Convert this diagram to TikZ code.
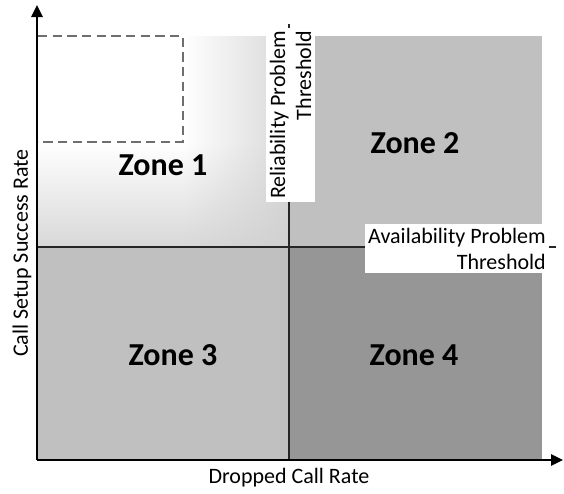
\documentclass[tikz,border=0pt]{standalone}
\usepackage{fontspec}
\setmainfont{Carlito}
\usetikzlibrary{arrows.meta,shadings}
\definecolor{zonegray}{HTML}{C0C0C0}
\definecolor{zonedark}{HTML}{969696}
\definecolor{dashgray}{HTML}{6E6E6E}
\definecolor{fadegray}{HTML}{D8D8D8}
\definecolor{fadedeep}{HTML}{D0D0D0}
\tikzset{
  axis/.style={line width=1.5pt, -{Triangle[length=9pt,width=8.5pt]}},
  divider/.style={line width=1.1pt, black!85},
  zonelabel/.style={font=\fontsize{24}{29}\selectfont\bfseries},
  thresholdlabel/.style={fill=white, inner sep=2.5pt, align=right, font=\fontsize{16.5}{19.5}\selectfont},
  axislabel/.style={font=\fontsize{16.5}{19.5}\selectfont}
}
\begin{document}
\begin{tikzpicture}[x=0.75pt, y=-0.75pt]
  \useasboundingbox (0,0) rectangle (564,493);
  % zone 1, fading out from the dashed corner
  \fill[white] (38,36) rectangle (183,142);
  \shade[left color=white, right color=fadegray] (183,36) rectangle (289,142);
  \shade[top color=white, bottom color=fadegray] (38,142) rectangle (183,247);
  \shade[upper left=white, upper right=fadegray, lower left=fadegray, lower right=fadedeep] (183,142) rectangle (289,247);
  % other zones
  \fill[zonegray] (289,36) rectangle (542,247);
  \fill[zonegray] (38,247) rectangle (289,460);
  \fill[zonedark] (289,247) rectangle (542,460);
  \draw[dashgray, line width=0.9pt, dash pattern=on 7pt off 4pt] (38,36) -- (183,36) -- (183,142) -- (38,142);
  % thresholds
  \coordinate (vtop) at (289,24);
  \coordinate (vbot) at (289,460);
  \coordinate (hleft) at (38,247);
  \coordinate (hright) at (556,247);
  \draw[divider] (vbot) -- (vtop);
  \draw[divider] (hleft) -- (hright);
  \node[thresholdlabel, rotate=90] (reliab) at (290.5,115) {Reliability Problem\\Threshold};
  \node[thresholdlabel] (avail) at (457,248.5) {Availability Problem\\Threshold};
  % zone labels
  \node[zonelabel] (zone1) at (163,165) {Zone 1};
  \node[zonelabel] (zone2) at (415,143) {Zone 2};
  \node[zonelabel] (zone3) at (173,355) {Zone 3};
  \node[zonelabel] (zone4) at (414,355) {Zone 4};
  % axes
  \coordinate (origin) at (37,460);
  \coordinate (xend) at (563,460);
  \coordinate (yend) at (37,5);
  \draw[axis] (origin) -- (xend);
  \draw[axis] (origin) -- (yend);
  \node[axislabel] (xlabel) at (289,478) {Dropped Call Rate};
  \node[axislabel, rotate=90] (ylabel) at (22,253) {Call Setup Success Rate};
\end{tikzpicture}
\end{document}
